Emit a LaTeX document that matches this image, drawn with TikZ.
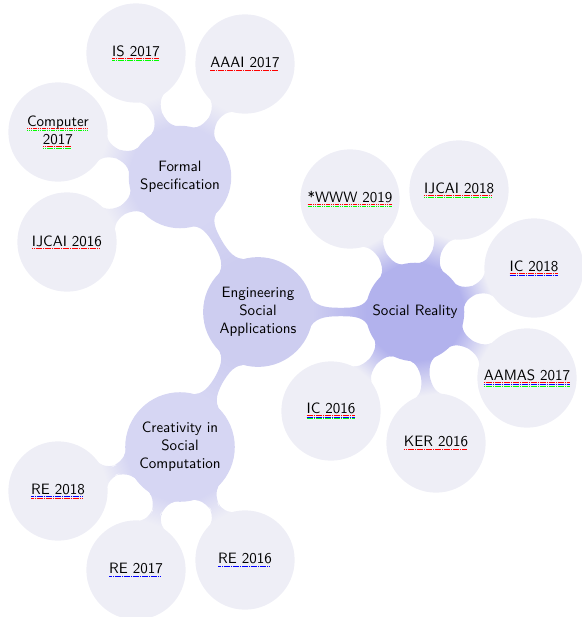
\documentclass[tikz,border=0pt]{standalone}
\usetikzlibrary{mindmap}

\definecolor{rootc}{RGB}{205,205,240}
\definecolor{subc}{RGB}{214,214,243}
\definecolor{realc}{RGB}{178,178,237}
\definecolor{leafc}{RGB}{238,238,246}

% text with stacked coloured dashed underlines
\newlength\publen
\newcommand\publine[2]{\leavevmode\hbox{%
  \settowidth\publen{#1}%
  \rlap{#1}%
  \foreach[count=\k] \col in {#2}{%
    \rlap{\color{\col}\leaders\hbox to 1.2pt{\rule[\dimexpr-0.6pt-1.1pt*\k\relax]{0.9pt}{0.5pt}\hss}\hskip\publen}}%
  \kern\publen}}

\begin{document}
\begin{tikzpicture}[
  mindmap,
  x=0.6667pt, y=-0.6667pt,
  every node/.style={font=\sffamily},
  hub/.style={concept, concept color=rootc, minimum size=72pt, text width=64pt, inner sep=0pt, font=\sffamily},
  topic/.style={concept, concept color=subc, minimum size=67pt, text width=64pt, inner sep=0pt, font=\sffamily},
  paper/.style={concept, concept color=leafc, minimum size=65pt, text width=60pt, inner sep=0pt, font=\sffamily}
]
\useasboundingbox (0,0) rectangle (581,617);

\node[hub] (esa) at (258,312) {Engineering\\Social\\Applications};
\node[topic] (fs) at (180,177) {Formal\\Specification};
\node[topic, concept color=realc, minimum size=64pt] (sr) at (415,312) {Social Reality};
\node[topic, minimum size=71pt] (cre) at (180,447) {Creativity in\\Social\\Computation};

% formal specification
\node[paper] (is17) at (136,53) {\publine{IS 2017}{red,green}};
\node[paper] (aaai17) at (245,64) {\publine{AAAI 2017}{red}};
\node[paper] (comp17) at (58,132) {\publine{Computer}{red,green}\\\publine{2017}{red,green}};
\node[paper] (ijcai16) at (67,242) {\publine{IJCAI 2016}{red}};

% social reality
\node[paper] (www19) at (350,199) {\publine{*WWW 2019}{red,green}};
\node[paper] (ijcai18) at (459,190) {\publine{IJCAI 2018}{red,green}};
\node[paper] (ic18) at (534,268) {\publine{IC 2018}{red,blue}};
\node[paper] (aamas17) at (527,378) {\publine{AAMAS 2017}{red,blue,green}};
\node[paper] (ker16) at (436,443) {\publine{KER 2016}{red}};
\node[paper] (ic16) at (331,411) {\publine{IC 2016}{red,blue,green}};

% creativity
\node[paper] (re18) at (58,491) {\publine{RE 2018}{blue,red}};
\node[paper] (re17) at (136,570) {\publine{RE 2017}{blue}};
\node[paper] (re16) at (245,560) {\publine{RE 2016}{blue}};

\path (esa) to[circle connection bar switch color=from (rootc) to (subc)] (fs);
\path (esa) to[circle connection bar switch color=from (rootc) to (realc)] (sr);
\path (esa) to[circle connection bar switch color=from (rootc) to (subc)] (cre);
\foreach \p in {is17,aaai17,comp17,ijcai16}
  \path (fs) to[circle connection bar switch color=from (subc) to (leafc)] (\p);
\foreach \p in {www19,ijcai18,ic18,aamas17,ker16,ic16}
  \path (sr) to[circle connection bar switch color=from (realc) to (leafc)] (\p);
\foreach \p in {re18,re17,re16}
  \path (cre) to[circle connection bar switch color=from (subc) to (leafc)] (\p);
\end{tikzpicture}
\end{document}
